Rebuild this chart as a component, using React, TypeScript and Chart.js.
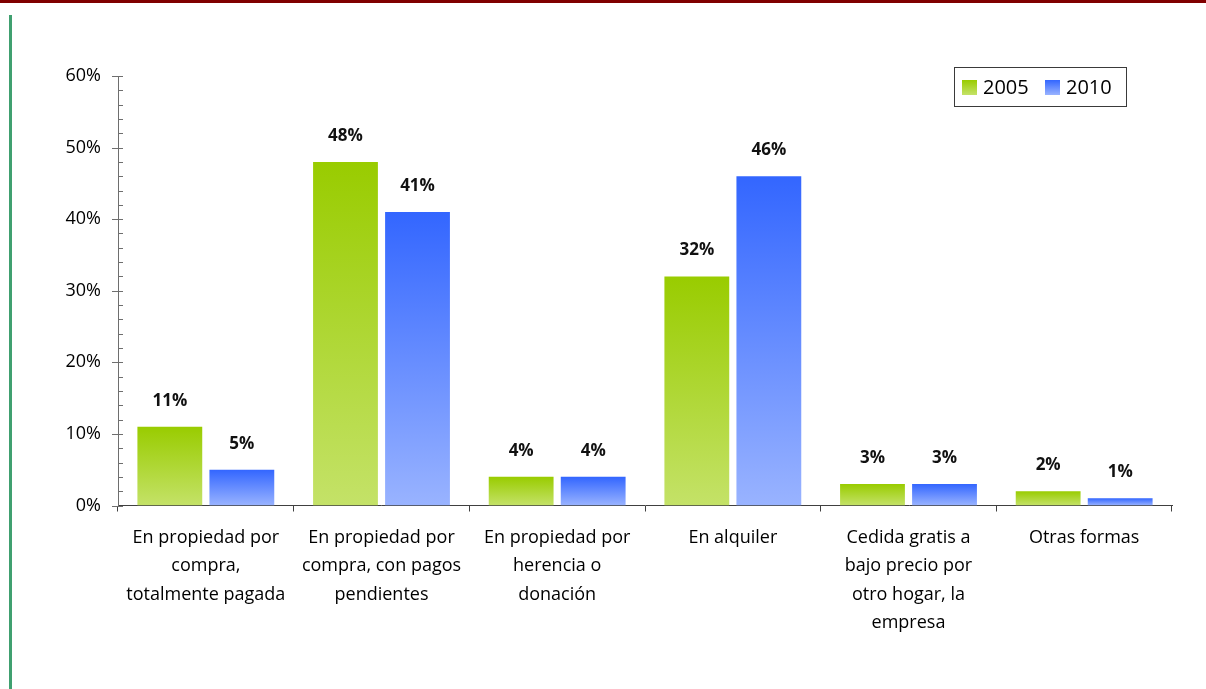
import React, { useEffect, useRef } from "react";
import { Chart, registerables } from "chart.js";

Chart.register(...registerables);

const categories: string[][] = [
  ["En propiedad por", "compra,", "totalmente pagada"],
  ["En propiedad por", "compra, con pagos", "pendientes"],
  ["En propiedad por", "herencia o", "donación"],
  ["En alquiler"],
  ["Cedida gratis a", "bajo precio por", "otro hogar, la", "empresa"],
  ["Otras formas"],
];
const seriesNames = ["2005", "2010"];
const series2005 = [11, 48, 4, 32, 3, 2];
const series2010 = [5, 41, 4, 46, 3, 1];
const yTickValues = [0, 10, 20, 30, 40, 50, 60];

const FONT = "'Open Sans', 'Noto Sans', sans-serif";
const GREEN_TOP = "rgb(153,204,0)";
const GREEN_BOTTOM = "rgb(196,226,104)";
const BLUE_TOP = "rgb(51,102,255)";
const BLUE_BOTTOM = "rgb(153,179,255)";

function gradientFill(top: string, bottom: string) {
  return (ctx: any) => {
    const chart = ctx.chart;
    if (!chart.chartArea || ctx.type !== "data") return top;
    const ys = chart.scales.y;
    const yTop = ys.getPixelForValue(ctx.raw);
    const yBase = ys.getPixelForValue(0);
    if (!isFinite(yTop) || !isFinite(yBase) || yBase - yTop < 0.5) return top;
    const g = chart.ctx.createLinearGradient(0, yTop, 0, yBase);
    g.addColorStop(0, top);
    g.addColorStop(1, bottom);
    return g;
  };
}

const valueLabels = {
  id: "valueLabels",
  afterDatasetsDraw(chart: any) {
    const c = chart.ctx;
    c.save();
    c.font = `bold 17px ${FONT}`;
    c.fillStyle = "#111";
    c.textAlign = "center";
    c.textBaseline = "middle";
    chart.data.datasets.forEach((ds: any, i: number) => {
      const meta = chart.getDatasetMeta(i);
      meta.data.forEach((el: any, j: number) => {
        c.fillText(`${ds.data[j]}%`, el.x, el.y - 26);
      });
    });
    c.restore();
  },
};

const yTickMarks = {
  id: "yTickMarks",
  afterDraw(chart: any) {
    const c = chart.ctx;
    const ys = chart.scales.y;
    const x = chart.chartArea.left;
    c.save();
    c.strokeStyle = "#6e6e6e";
    c.lineWidth = 1;
    for (let v = 0; v <= 60; v += 2) {
      const y = Math.round(ys.getPixelForValue(v)) + 0.5;
      const major = v % 10 === 0;
      c.beginPath();
      c.moveTo(major ? x - 6 : x, y);
      c.lineTo(x + 5, y);
      c.stroke();
    }
    c.restore();
  },
};

const customLegend = {
  id: "customLegend",
  afterDraw(chart: any) {
    const c = chart.ctx;
    c.save();
    c.strokeStyle = "#3a3a3a";
    c.lineWidth = 1;
    c.strokeRect(954.5, 67.5, 172, 39);
    const items = [
      { x: 962, top: GREEN_TOP, bottom: GREEN_BOTTOM, text: seriesNames[0] },
      { x: 1045, top: BLUE_TOP, bottom: BLUE_BOTTOM, text: seriesNames[1] },
    ];
    c.font = `20px ${FONT}`;
    c.textBaseline = "middle";
    c.textAlign = "left";
    items.forEach((it) => {
      const g = c.createLinearGradient(0, 80, 0, 95);
      g.addColorStop(0, it.top);
      g.addColorStop(1, it.bottom);
      c.fillStyle = g;
      c.fillRect(it.x, 80, 15, 15);
      c.fillStyle = "#000";
      c.fillText(it.text, it.x + 21, 88);
    });
    c.restore();
  },
};

export default function App() {
  const ref = useRef<HTMLCanvasElement | null>(null);

  useEffect(() => {
    if (!ref.current) return;
    const chart = new Chart(ref.current, {
      type: "bar",
      data: {
        labels: categories,
        datasets: [
          {
            label: seriesNames[0],
            data: series2005,
            backgroundColor: gradientFill(GREEN_TOP, GREEN_BOTTOM),
            borderWidth: 0,
            categoryPercentage: 0.82,
            barPercentage: 0.9,
          },
          {
            label: seriesNames[1],
            data: series2010,
            backgroundColor: gradientFill(BLUE_TOP, BLUE_BOTTOM),
            borderWidth: 0,
            categoryPercentage: 0.82,
            barPercentage: 0.9,
          },
        ],
      },
      options: {
        responsive: false,
        animation: false,
        layout: { padding: { top: 76, right: 34, bottom: 0, left: 0 } },
        plugins: {
          legend: { display: false },
          tooltip: { enabled: false },
        },
        scales: {
          x: {
            grid: {
              display: true,
              offset: true,
              drawOnChartArea: false,
              drawTicks: true,
              tickLength: 6,
              color: "#404040",
            },
            border: { display: true, color: "#404040", width: 1 },
            ticks: {
              color: "#000",
              font: { family: FONT, size: 18, lineHeight: 1.58 },
              padding: 12,
              maxRotation: 0,
              autoSkip: false,
            },
            afterFit(scale: any) {
              scale.height = 183.5;
            },
          },
          y: {
            min: 0,
            max: 60,
            afterBuildTicks(scale: any) {
              scale.ticks = yTickValues.map((v) => ({ value: v }));
            },
            grid: { display: false, drawTicks: false },
            border: { display: true, color: "#6e6e6e", width: 1 },
            ticks: {
              color: "#000",
              font: { family: FONT, size: 18 },
              padding: 17,
              callback: (v: any) => `${v}%`,
            },
            afterFit(scale: any) {
              scale.width = 118;
            },
          },
        },
      },
      plugins: [valueLabels, yTickMarks, customLegend],
    });
    return () => chart.destroy();
  }, []);

  return (
    <div
      style={{
        position: "absolute",
        left: 0,
        top: 0,
        width: 1206,
        height: 689,
        background: "#fff",
        overflow: "hidden",
      }}
    >
      <div style={{ position: "absolute", left: 0, top: 0, width: 1206, height: 3, background: "#800000" }} />
      <div style={{ position: "absolute", left: 9, top: 15, width: 3, height: 674, background: "rgb(64,160,112)" }} />
      <canvas ref={ref} width={1206} height={689} style={{ position: "absolute", left: 0, top: 0 }} />
    </div>
  );
}
